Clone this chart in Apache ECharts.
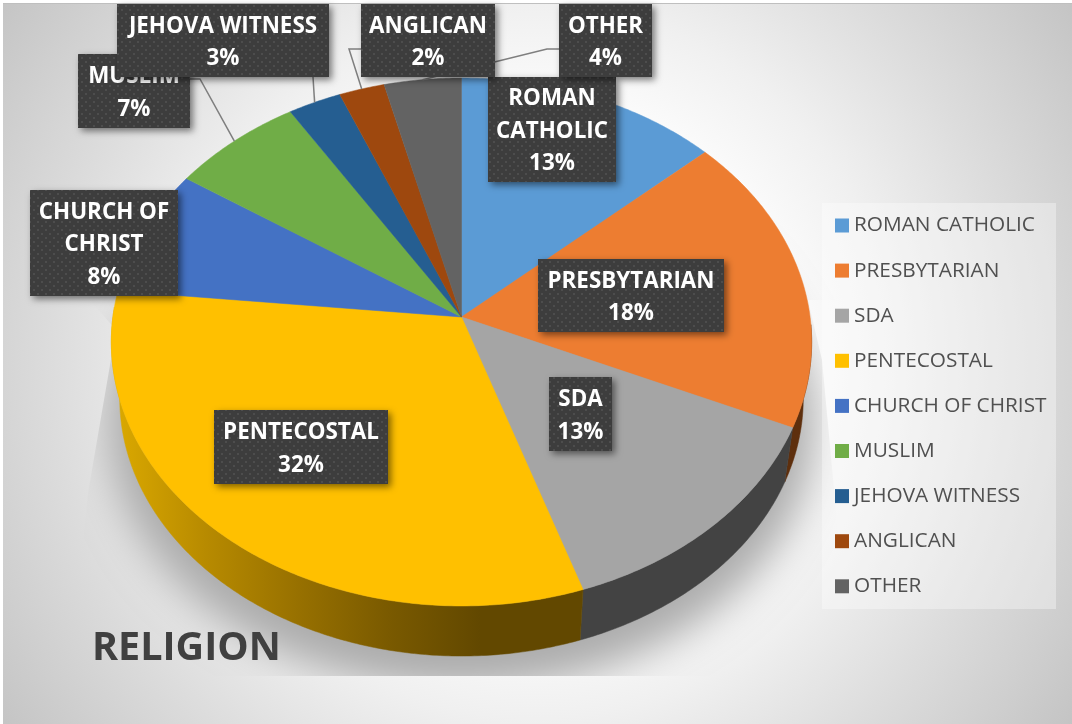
<!DOCTYPE html>
<html>
<head>
<meta charset="utf-8">
<style>html,body{margin:0;padding:0;background:#fff}#c{width:1072px;height:724px}</style>
<script src="https://cdn.jsdelivr.net/npm/echarts@6/dist/echarts.min.js"></script>
</head>
<body>
<div id="c"></div>
<script>
// ---- data ----
const categories = ['ROMAN CATHOLIC','PRESBYTARIAN','SDA','PENTECOSTAL','CHURCH OF CHRIST','MUSLIM','JEHOVA WITNESS','ANGLICAN','OTHER'];
const shares = [13.33,18.34,13.19,31.74,7.8,6.7,2.7,2.3,3.9];
const labelNames = ['ROMAN\nCATHOLIC','PRESBYTARIAN','SDA','PENTECOSTAL','CHURCH OF\nCHRIST','MUSLIM','JEHOVA WITNESS','ANGLICAN','OTHER'];
const chartTitle = 'RELIGION';

// ---- styles ----
const faceColors = ['#5B9BD5','#ED7D31','#A5A5A5','#FFC000','#4472C4','#70AD47','#255E91','#9E480E','#636363'];
const FONT = '"Open Sans","Noto Sans",sans-serif';
const wallGold = {type:'linear',x:112,y:0,x2:480,y2:0,global:true,colorStops:[
  {offset:0,color:'#dcaa00'},{offset:.25,color:'#b88b00'},{offset:.5,color:'#987100'},
  {offset:.75,color:'#7a5a00'},{offset:1,color:'#624800'}]};
const wallColors = ['#3a6a96','#5e2f0d','#434343',wallGold,'#2f4f88','#4e7a31','#1a4266','#6e320a','#454545'];

// ---- layout ----
const APEX = [461.5,317], A = 348.6, B = 261.6, P = 0.0947;
const DEPTH = 57, BOTTOM_SCALE = 0.976;
const WALL_FROM = 1.6, WALL_TO = 4.75;
const SHADOW_SHIFT = 3000;
const labelBoxes = [ // x, y, w, h, stacking
  [488,77,128,105,3],[538,259,186,73,1],[549,377,63,74,1],[214,410,174,74,1],
  [30,190,148,106,1],[78,54,112,74,1],[117,4,212,73,2],[361,4,134,73,4],[559,4,93,73,4]
];
const leaders = {5:[[190,79],[200,79]],6:[[313,77]],7:[[361,49],[349,49]],8:[[559,49],[547,49]]};

function project(theta, scale, dy){
  const u = Math.sin(theta), v = -Math.cos(theta), d = 1 - P*v;
  return [APEX[0] + scale*A*u/d, APEX[1] + dy + scale*B*v/d];
}
function arc(t0, t1, scale, dy){
  const n = Math.max(2, Math.ceil((t1-t0)/0.01)), out = [];
  for(let i=0;i<=n;i++) out.push(project(t0+(t1-t0)*i/n, scale, dy));
  return out;
}
const total = shares.reduce((a,b)=>a+b,0);
function angleAt(i){ let c=0; for(let k=0;k<i;k++) c+=shares[k]; return c/total*Math.PI*2; }

const dots = document.createElement('canvas');
dots.width = 8; dots.height = 8;
(function(){
  const g = dots.getContext('2d');
  g.fillStyle = '#3d3d3d'; g.fillRect(0,0,8,8);
  g.fillStyle = '#4d4d4d'; g.fillRect(1,1,2,2); g.fillRect(5,5,2,2);
})();

const bgStops = [{offset:0,color:'#ffffff'},{offset:.38,color:'#fdfdfd'},{offset:.55,color:'#f0f0f0'},{offset:.75,color:'#dcdcdc'},{offset:1,color:'#c4c4c4'}];
const bgFill = {type:'radial',x:536,y:362,r:648,global:true,colorStops:bgStops};

function renderSlice(params, api){
  const i = params.seriesIndex - 1;
  const t0 = angleAt(i), t1 = t0 + api.value(0)/total*Math.PI*2;
  const top = arc(t0,t1,1,0);
  const kids = [
    {type:'polygon',z2:2,shape:{points:[APEX].concat(top)},style:{fill:faceColors[i],stroke:faceColors[i],lineWidth:.5}}
  ];
  const w0 = Math.max(t0,WALL_FROM), w1 = Math.min(t1,WALL_TO);
  if(w1 > w0){
    const pts = arc(w0,w1,1,0).concat(arc(w0,w1,BOTTOM_SCALE,DEPTH).reverse());
    kids.push({type:'polygon',z2:1,shape:{points:pts},style:{fill:wallColors[i],stroke:wallColors[i],lineWidth:.5}});
  }
  if(leaders[i]){
    const pts = leaders[i].concat([project((t0+t1)/2,1,0)]);
    kids.push({type:'polyline',z2:3,shape:{points:pts},style:{fill:null,stroke:'#7f7f7f',lineWidth:1.5}});
  }
  const b = labelBoxes[i];
  kids.push({type:'rect',z2:10+b[4]*2,shape:{x:b[0],y:b[1],width:b[2],height:b[3]},
    style:{fill:{image:dots,repeat:'repeat'},shadowBlur:7,shadowOffsetX:3,shadowOffsetY:3,shadowColor:'rgba(0,0,0,0.5)'}});
  kids.push({type:'text',z2:11+b[4]*2,style:{
    text:labelNames[i]+'\n'+Math.round(api.value(0))+'%',
    x:b[0]+b[2]/2,y:b[1]+b[3]/2+2,align:'center',verticalAlign:'middle',
    fill:'#fff',fontFamily:FONT,fontSize:22.4,fontWeight:'bold',lineHeight:32.5}});
  return {type:'group',children:kids};
}
function renderShadow(){
  // the outline sits off canvas so that only its soft shadow lands on the chart
  const pts = arc(0,Math.PI*2,1.01,DEPTH+24).map(p=>[p[0]-SHADOW_SHIFT,p[1]]);
  return {type:'polygon',shape:{points:pts},
    style:{fill:'#acacac',shadowBlur:40,shadowColor:'#acacac',shadowOffsetX:SHADOW_SHIFT}};
}

const series = [{type:'custom',name:'shadow',coordinateSystem:'none',z:1,silent:true,data:[[1]],renderItem:renderShadow}]
 .concat(categories.map((name,i)=>({
  type:'custom',name,coordinateSystem:'none',z:4,silent:true,
  itemStyle:{color:faceColors[i]},data:[[shares[i]]],renderItem:renderSlice
 })));

const chart = echarts.init(document.getElementById('c'),null,{renderer:'canvas'});
chart.setOption({
  animation:false,
  backgroundColor:'#ffffff',
  title:{text:chartTitle,left:92,top:629,padding:0,z:6,
    textStyle:{fontFamily:FONT,fontSize:39.5,fontWeight:'bold',color:'#404040'}},
  legend:{orient:'vertical',left:835,top:215,padding:0,itemWidth:14,itemHeight:14,itemGap:24.1,z:5,
    icon:'rect',selectedMode:false,data:categories,
    textStyle:{fontFamily:FONT,fontSize:20.8,color:'#505050',lineHeight:21}},
  graphic:[
    {type:'rect',z:0,silent:true,shape:{x:3,y:4,width:1069,height:720},style:{fill:bgFill}},
    {type:'rect',z:0,silent:true,shape:{x:3,y:3,width:1069,height:1},style:{fill:'#bfbfbf'}},
    {type:'rect',z:2,silent:true,shape:{x:3,y:676,width:1069,height:48},style:{fill:bgFill}},
    {type:'polygon',z:2,silent:true,shape:{points:[[3,200],[116,330],[88,493],[70,676],[3,676]]},style:{fill:bgFill}},
    {type:'polygon',z:2,silent:true,shape:{points:[[808,300],[822,360],[835,500],[850,676],[1072,676],[1072,300]]},style:{fill:bgFill}},
    {type:'rect',z:3,silent:true,shape:{x:822,y:203,width:234,height:406},style:{fill:'rgba(255,255,255,0.35)'}}
  ],
  series
});
</script>
</body>
</html>
